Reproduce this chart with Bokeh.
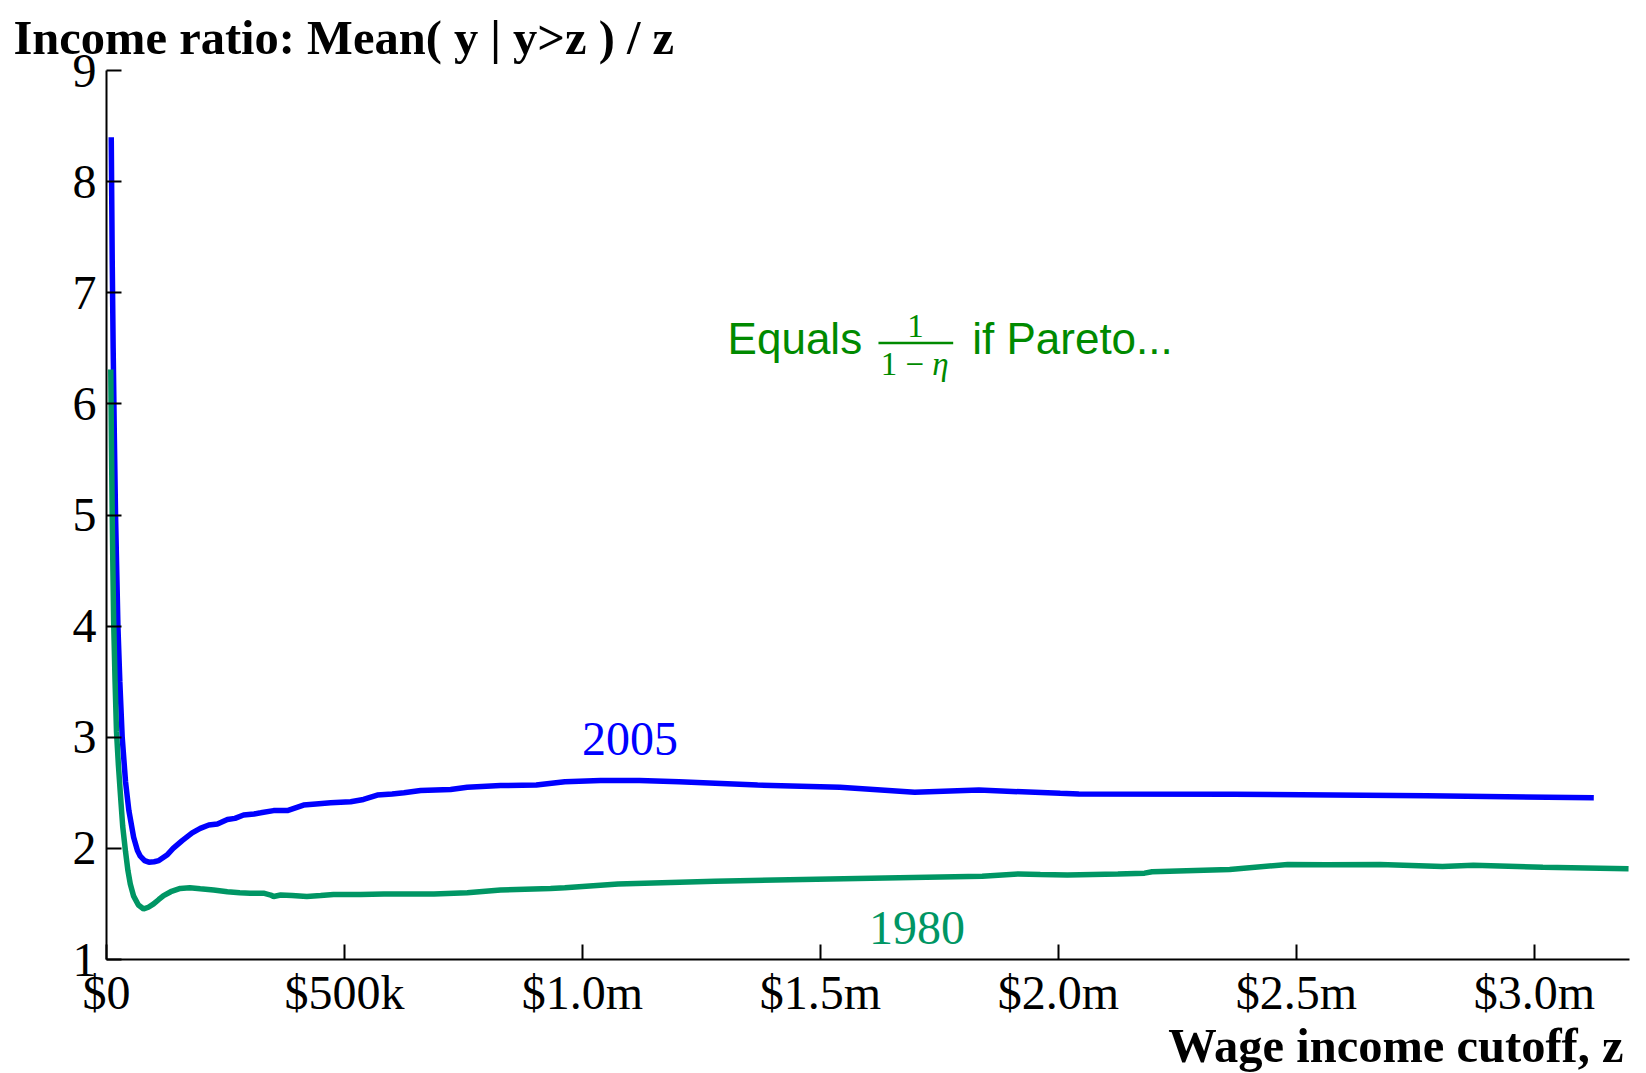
from bokeh.plotting import figure
from bokeh.models import Label, FixedTicker, Arrow, Title
from bokeh.layouts import column
from bokeh.embed import file_html
from bokeh.resources import INLINE

# ---- data ----
income_2005 = [10000, 12000, 14000, 16500, 19000, 21500, 24000, 28000, 33000, 40000,
               47000, 57000, 65000, 71000, 80000, 89000, 100000, 110000, 127000, 140000,
               159000, 180000, 197000, 215000, 233000, 254000, 270000, 288000, 310000, 324000,
               351000, 380000, 414000, 440000, 471000, 513000, 540000, 569000, 600000, 625000,
               660000, 723000, 758000, 828000, 903000, 963000, 1038000, 1120000, 1203000, 1368000,
               1541000, 1698000, 1833000, 2004000, 2043000, 2368000, 2774000, 3125000]
ratio_2005 = [8.40, 7.30, 6.50, 5.70, 5.00, 4.50, 4.00, 3.50, 3.00, 2.60,
              2.34, 2.10, 1.98, 1.93, 1.89, 1.876, 1.88, 1.89, 1.94, 2.00,
              2.07, 2.14, 2.18, 2.21, 2.22, 2.26, 2.27, 2.30, 2.31, 2.32,
              2.34, 2.34, 2.39, 2.40, 2.41, 2.42, 2.44, 2.48, 2.49, 2.50,
              2.52, 2.53, 2.55, 2.565, 2.57, 2.60, 2.61, 2.61, 2.60, 2.57,
              2.55, 2.506, 2.525, 2.495, 2.49, 2.488, 2.473, 2.455]

income_1980 = [9000, 10500, 12000, 13500, 15000, 18000, 21000, 25000, 29000, 34000,
               40000, 45000, 50000, 57000, 67000, 78000, 88000, 99000, 110000, 120000,
               135000, 155000, 175000, 197000, 225000, 254000, 280000, 302000, 330000, 345000,
               351000, 366000, 390000, 421000, 450000, 477000, 534000, 583000, 688000, 758000,
               828000, 933000, 963000, 1075000, 1278000, 1578000, 1840000, 1916000, 1962000, 2019000,
               2125000, 2181000, 2197000, 2360000, 2482000, 2563000, 2676000, 2807000, 2872000, 3018000,
               3198000]
ratio_1980 = [6.31, 5.60, 5.00, 4.50, 4.05, 3.50, 3.05, 2.75, 2.50, 2.20,
              1.97, 1.80, 1.68, 1.57, 1.49, 1.455, 1.47, 1.50, 1.54, 1.575,
              1.61, 1.64, 1.645, 1.636, 1.625, 1.61, 1.60, 1.597, 1.597, 1.58,
              1.567, 1.58, 1.575, 1.567, 1.575, 1.585, 1.585, 1.59, 1.59, 1.60,
              1.625, 1.64, 1.645, 1.68, 1.705, 1.73, 1.75, 1.77, 1.765, 1.76,
              1.77, 1.777, 1.79, 1.81, 1.855, 1.852, 1.855, 1.837, 1.849, 1.83,
              1.816]

x_ticks = [0, 500000, 1000000, 1500000, 2000000, 2500000, 3000000]
x_tick_labels = ["$0", "$500k", "$1.0m", "$1.5m", "$2.0m", "$2.5m", "$3.0m"]
y_ticks = [1, 2, 3, 4, 5, 6, 7, 8, 9]

title_text = "Income ratio: Mean( y | y>z ) / z"
xlabel_text = "Wage income cutoff, z"

BLUE = "#0000FF"
GREEN = "#009664"
ANNOT = "#008A00"
SERIF = "Liberation Serif"
SANS = "Liberation Sans"

W = 1646
MAIN_H = 1021
BOT_H = 52
FRAME_L = 106
FRAME_R = 1629


def add_label(fig, x, y, text, align, font, size, color, style="normal"):
    fig.add_layout(Label(x=x, y=y, text=text, text_align=align, text_baseline="middle",
                         text_font=font, text_font_size=size, text_color=color,
                         text_font_style=style))


# ---- main chart ----
p = figure(width=W, height=MAIN_H, x_range=(0, 3.2e6), y_range=(1, 9),
           output_backend="svg", toolbar_location=None,
           min_border_left=FRAME_L, min_border_right=W - FRAME_R,
           min_border_top=70, min_border_bottom=62)
p.outline_line_color = None
p.xgrid.visible = False
p.ygrid.visible = False
p.background_fill_color = "white"
p.border_fill_color = "white"

for ax in (p.xaxis[0], p.yaxis[0]):
    ax.axis_line_width = 2
    ax.axis_line_color = "black"
    ax.major_tick_line_width = 2
    ax.major_tick_line_color = "black"
    ax.major_tick_in = 15
    ax.major_tick_out = 0
    ax.minor_tick_line_color = None
    ax.major_label_text_font = SERIF
    ax.major_label_text_font_size = "48px"
    ax.major_label_text_color = "black"

p.xaxis.ticker = FixedTicker(ticks=x_ticks)
p.xaxis.major_label_overrides = {t: lab for t, lab in zip(x_ticks, x_tick_labels)}
p.xaxis.major_label_standoff = 6
p.yaxis.ticker = FixedTicker(ticks=y_ticks)
p.yaxis.major_label_standoff = 10

p.line(income_2005, ratio_2005, line_color=BLUE, line_width=5.5)
p.line(income_1980, ratio_1980, line_color=GREEN, line_width=5.5)

# series labels
add_label(p, 1.1e6, 2.98, "2005", "center", SERIF, "48px", BLUE)
add_label(p, 1.703e6, 1.28, "1980", "center", SERIF, "48px", GREEN)

# annotation "Equals 1/(1-eta) if Pareto..."
add_label(p, 1.305e6, 6.59, "Equals", "left", SANS, "44px", ANNOT)
add_label(p, 1.700e6, 6.70, "1", "center", SERIF, "33px", ANNOT)
p.add_layout(Arrow(x_start=1.622e6, x_end=1.779e6, y_start=6.547, y_end=6.547,
                   start=None, end=None, line_color=ANNOT, line_width=2.5))
add_label(p, 1.735e6, 6.355, "1 \u2212 ", "right", SERIF, "33px", ANNOT)
add_label(p, 1.735e6, 6.355, "\u03b7", "left", SERIF, "33px", ANNOT, "italic")
add_label(p, 1.819e6, 6.59, "if Pareto...", "left", SANS, "44px", ANNOT)

# title
p.add_layout(Title(text=title_text, align="left", offset=-93, standoff=14,
                   text_font=SERIF, text_font_size="48.5px", text_font_style="bold",
                   text_color="black"), "above")

# ---- x-axis label strip (its frame aligns with the chart frame) ----
bot = figure(width=W, height=BOT_H, x_range=(FRAME_L, FRAME_R), y_range=(0, BOT_H),
             output_backend="svg", toolbar_location=None,
             x_axis_type=None, y_axis_type=None, min_border=0)
bot.outline_line_color = None
bot.background_fill_color = "white"
bot.border_fill_color = "white"
add_label(bot, 1623, BOT_H - 23.5, xlabel_text, "right", SERIF, "48.5px", "black", "bold")

layout = column(p, bot, spacing=0)
open("out.html", "w").write(file_html(layout, INLINE))
